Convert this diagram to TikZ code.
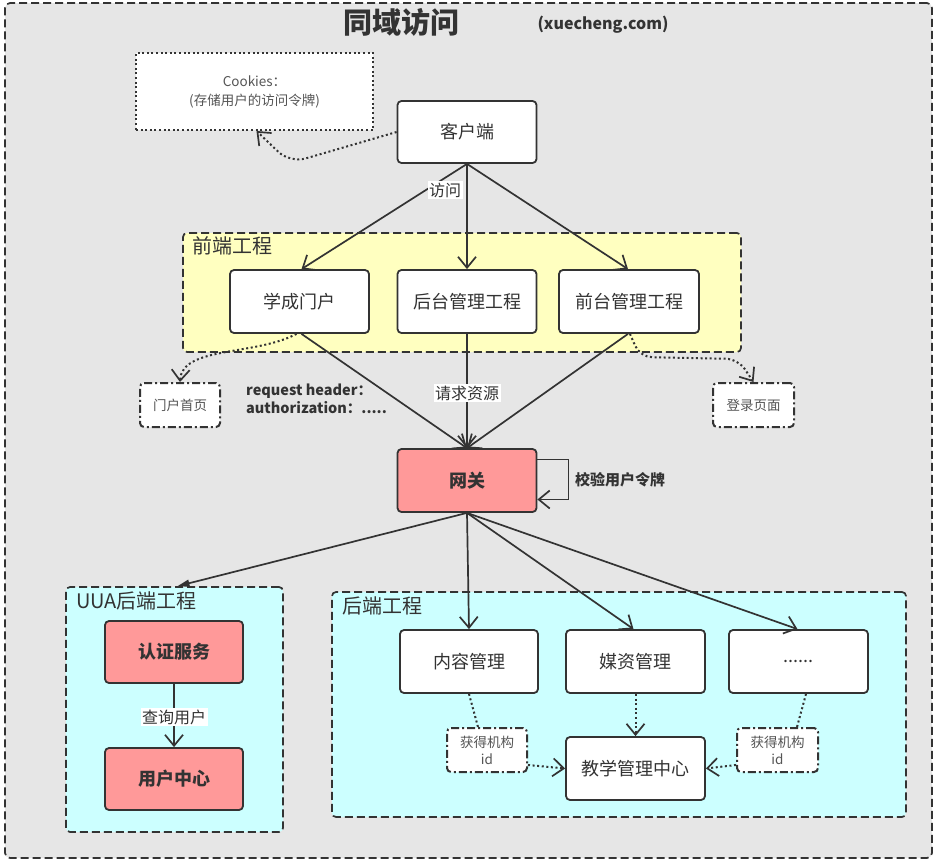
\documentclass[tikz,border=0pt]{standalone}
\usepackage{fontspec}
\setmainfont{Noto Sans CJK SC}
\usetikzlibrary{arrows.meta,calc}
\definecolor{bgg}{HTML}{E6E6E6}
\definecolor{yel}{HTML}{FFFFC0}
\definecolor{cya}{HTML}{CCFFFF}
\definecolor{pnk}{HTML}{FF9999}
\definecolor{ink}{HTML}{333333}
\definecolor{soft}{HTML}{555555}
\begin{document}
\begin{tikzpicture}[x=1pt,y=-1pt,
  grp/.style={draw=ink, line width=1.7pt, dash pattern=on 8pt off 4pt, rounded corners=4pt, inner sep=0pt},
  box/.style={draw=ink, line width=1.8pt, rounded corners=4pt, fill=white, text=ink,
    minimum width=139pt, minimum height=63pt, inner sep=0pt, font=\fontsize{18}{22}\selectfont},
  redbox/.style={box, fill=pnk, font=\fontsize{18}{22}\selectfont\bfseries},
  note/.style={draw=ink, line width=2pt, dash pattern=on 8pt off 3pt on 2pt off 3pt, rounded corners=4pt,
    fill=white, text=soft, minimum width=80pt, minimum height=44pt, inner sep=0pt, align=center,
    font=\fontsize{13.5}{17}\selectfont},
  grplbl/.style={anchor=west, text=ink, inner sep=0pt, font=\fontsize{20}{24}\selectfont},
  lbl/.style={fill=white, text=ink, inner sep=1.5pt, font=\fontsize{16}{19}\selectfont},
  arr/.style={draw=ink, line width=1.7pt, -{Straight Barb[length=11pt,width=18pt]}},
  dotarr/.style={draw=ink, line width=2pt, dash pattern=on 2pt off 2.6pt, -{Straight Barb[length=11pt,width=18pt,line width=1.7pt]}},
  dotln/.style={draw=ink, line width=2pt, dash pattern=on 2pt off 2.6pt}
]
\useasboundingbox (0,0) rectangle (937,862);

% outer domain frame
\node[grp, fill=bgg, rounded corners=5pt, minimum width=927pt, minimum height=855pt] (outer) at (468.5,430.5) {};
\node[text=ink, font=\fontsize{29}{34}\selectfont\bfseries] (title) at (401,22) {同域访问};
\node[text=ink, font=\fontsize{16}{19}\selectfont\bfseries] (dom) at (603,25) {(xuecheng.com)};

% groups
\node[grp, fill=yel, minimum width=558pt, minimum height=119pt] (fe) at (462,292.5) {};
\node[grplbl] (felbl) at (192,246) {前端工程};
\node[grp, fill=cya, minimum width=217pt, minimum height=245pt] (uua) at (174.5,709.5) {};
\node[grplbl] (uualbl) at (76,601) {UUA后端工程};
\node[grp, fill=cya, minimum width=574pt, minimum height=225pt] (be) at (619,704.5) {};
\node[grplbl] (belbl) at (342,606) {后端工程};

% cookies note
\node[draw=ink, line width=2pt, dash pattern=on 2pt off 2.6pt, fill=white, text=soft,
  minimum width=237pt, minimum height=77pt, align=center, inner sep=0pt,
  font=\fontsize{13.5}{19}\selectfont] (cookie) at (254.5,91.5) {Cookies：\\(存储用户的访问令牌)};

% boxes
\node[box, minimum height=62pt] (cli) at (467,132) {客户端};
\node[box] (xc) at (299.5,301.5) {学成门户};
\node[box] (ht) at (467,301.5) {后台管理工程};
\node[box, minimum width=140pt] (qt) at (629,301.5) {前台管理工程};
\node[note] (mh) at (180,405) {门户首页};
\node[note, minimum width=81pt] (dl) at (753.5,405) {登录页面};
\node[redbox] (gw) at (467,480.5) {网关};
\node[redbox, minimum width=138pt, minimum height=62pt] (rz) at (174,652) {认证服务};
\node[redbox, minimum width=138pt, minimum height=62pt] (yh) at (174,779) {用户中心};
\node[box, minimum width=138pt] (nr) at (469,661.5) {内容管理};
\node[box] (mz) at (635.5,661.5) {媒资管理};
\node[box] (dd) at (798.5,661.5) {......};
\node[box] (jx) at (635.5,768.5) {教学管理中心};
\node[note] (hq1) at (487,750) {获得机构\\id};
\node[note, minimum width=81pt] (hq2) at (777.5,750) {获得机构\\id};

% client connectors
\draw[dotarr, rounded corners=16pt] (cli.west) -- (290,163) -- ([xshift=2pt]cookie.south);
\draw[arr] (cli.south) -- ([xshift=2pt]xc.north);
\draw[arr] (cli.south) -- (ht.north);
\draw[arr] (cli.south) -- ([xshift=-1pt]qt.north);

% front-end to notes
\draw[dotarr] ([xshift=-3pt]xc.south) .. controls (255,356) and (182,346) .. (mh.north);
\draw[dotarr, rounded corners=12pt] ([xshift=1pt]qt.south) -- (640,357) -- (738,359) -- (dl.north);

% front-end to gateway
\draw[arr] ([xshift=2pt]xc.south) -- (gw.north);
\draw[arr] (ht.south) -- (gw.north);
\draw[arr] ([xshift=-1pt]qt.south) -- (gw.north);

% gateway self check
\draw[arr] ([yshift=21pt]gw.east) -- ++(31pt,0) -- ++(0,-40pt) -- ([yshift=-19pt]gw.east);
\node[text=ink, font=\fontsize{15}{18}\selectfont\bfseries] (chk) at (620,480) {校验用户令牌};

% gateway to back-ends
\draw[draw=ink, line width=1.7pt, -{Triangle[length=12pt,width=7pt]}] (gw.south) -- ([xshift=3pt]uua.north);
\draw[arr] (gw.south) -- (nr.north);
\draw[arr] (gw.south) -- ([xshift=-2pt]mz.north);
\draw[arr] (gw.south) -- ([xshift=-1pt]dd.north);

% UUA internal
\draw[arr] (rz.south) -- (yh.north);

% back-end internal
\draw[dotln] (nr.south) -- ([xshift=-9pt]hq1.north);
\draw[dotarr] ([yshift=-15pt]hq1.east) -- (jx.west);
\draw[dotarr] (mz.south) -- (jx.north);
\draw[dotln] ([xshift=7.5pt]dd.south) -- ([xshift=19.5pt]hq2.north);
\draw[dotarr] ([yshift=-15pt]hq2.west) -- (jx.east);

% labels
\node[lbl] (l1) at (445,190) {访问};
\node[lbl] (l2) at (467,393) {请求资源};
\node[lbl] (l3) at (174,717) {查询用户};
\node[anchor=west, align=left, text=ink, inner sep=0pt, font=\fontsize{14.5}{18}\selectfont\bfseries] (req) at (246,399) {request header：\\authorization：.....};
\end{tikzpicture}
\end{document}
